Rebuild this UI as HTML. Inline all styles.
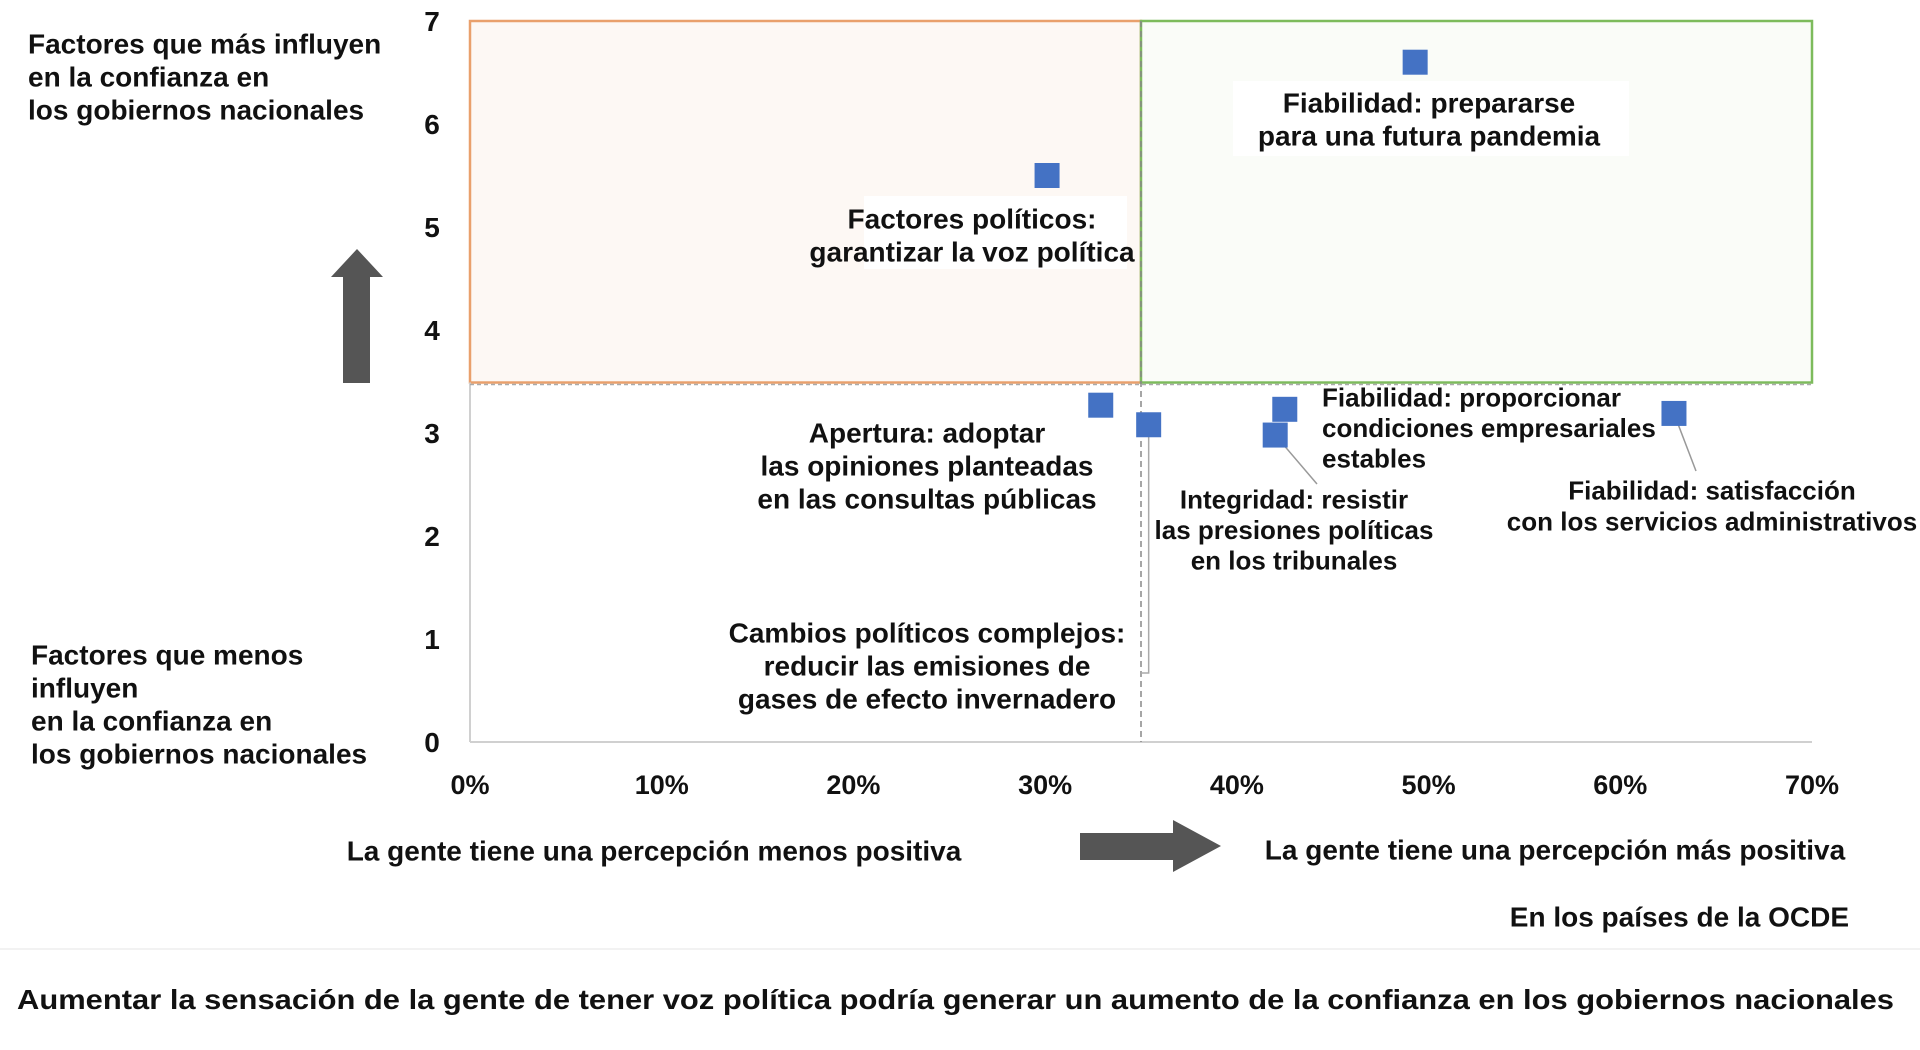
<!DOCTYPE html>
<html><head><meta charset="utf-8"><style>
body{margin:0;background:#fff;width:1920px;height:1050px;overflow:hidden}
svg{display:block}
text{font-family:"Liberation Sans",sans-serif;font-weight:bold;fill:#111}
</style></head><body>
<svg id="chart" width="1920" height="1050" viewBox="0 0 1920 1050">
<g id="bg"></g>
<g id="marks"></g>
</svg>
<script>
const xTicks=[0,10,20,30,40,50,60,70];
const yTicks=[0,1,2,3,4,5,6,7];
const names=["voz-politica","pandemia","consultas-publicas","emisiones","empresariales","tribunales","servicios-administrativos"];
const xVals=[30.1,49.3,32.9,35.4,42.5,42.0,62.8];
const yVals=[5.5,6.6,3.27,3.08,3.23,2.98,3.19];
const xSplit=35, ySplit=3.49;
const X=v=>470+v*(1812-470)/70;
const Y=v=>742-v*(742-21)/7;
const NS="http://www.w3.org/2000/svg";
const bg=document.getElementById('bg'), mk=document.getElementById('marks');
function el(p,t,a,txt){const e=document.createElementNS(NS,t);for(const k in a)e.setAttribute(k,a[k]);if(txt!==undefined)e.textContent=txt;p.appendChild(e);return e;}
let q1=el(bg,'rect',{x:X(0),y:Y(7),width:X(xSplit)-X(0),height:Y(ySplit)-Y(7),fill:'#fdf8f4',stroke:'#e9a06c','stroke-width':2.5});

let q2=el(bg,'rect',{x:X(xSplit),y:Y(7),width:X(70)-X(xSplit),height:Y(ySplit)-Y(7),fill:'#fafcf8',stroke:'#7dbb5c','stroke-width':2.5});

let ax=el(bg,'line',{x1:X(0),y1:Y(0),x2:X(70),y2:Y(0),stroke:'#d0d0d0','stroke-width':2});

let ay=el(bg,'line',{x1:X(0),y1:Y(0),x2:X(0),y2:Y(ySplit),stroke:'#d0d0d0','stroke-width':2});

let dv=el(bg,'line',{x1:X(xSplit),y1:Y(7),x2:X(xSplit),y2:Y(0),stroke:'#888','stroke-width':1.5,'stroke-dasharray':'6,4'});

let dh=el(bg,'line',{x1:X(0),y1:Y(ySplit)+2,x2:X(70),y2:Y(ySplit)+2,stroke:'#aaa','stroke-width':1.5,'stroke-dasharray':'4,3'});

xTicks.forEach(t=>{const e=el(bg,'text',{x:X(t),y:794,'text-anchor':'middle','font-size':27,fill:'#555'},t+'%');
});
yTicks.forEach(t=>{const e=el(bg,'text',{x:432,y:Y(t)+10,'text-anchor':'middle','font-size':28,fill:'#555'},t);
});
let b1=el(bg,'rect',{x:864,y:196,width:263,height:73,fill:'#fff'});
let b2=el(bg,'rect',{x:1233,y:81,width:396,height:75,fill:'#fff'});
let l1=el(mk,'line',{x1:X(42.0),y1:Y(2.98),x2:1317,y2:484,stroke:'#999','stroke-width':1.5});
let l2=el(mk,'line',{x1:X(62.8),y1:Y(3.19),x2:1696,y2:471,stroke:'#999','stroke-width':1.5});
let l3=el(mk,'polyline',{points:`${X(35.4)},${Y(3.08)} ${X(35.4)},673 ${X(35)},673`,fill:'none',stroke:'#aaa','stroke-width':1.5});
xVals.forEach((v,i)=>{const r=el(mk,'rect',{x:X(v)-12.5,y:Y(yVals[i])-12.5,width:25,height:25,fill:'#4472c4'});

});
function lab(lines,x,y0,dy,anchor,name,fs){fs=fs||28;lines.forEach((s,i)=>{const e=el(mk,'text',{x:x,y:y0+i*dy+fs/3,'text-anchor':anchor,'font-size':fs},s);

});}
lab(["Factores políticos:","garantizar la voz política"],972,219,33,'middle','label-voz-politica');
lab(["Fiabilidad: prepararse","para una futura pandemia"],1429,103,33,'middle','label-pandemia');
lab(["Apertura: adoptar","las opiniones planteadas","en las consultas públicas"],927,433,33,'middle','label-consultas');
lab(["Fiabilidad: proporcionar","condiciones empresariales","estables"],1322,398,30.5,'start','label-empresariales',26);
lab(["Integridad: resistir","las presiones políticas","en los tribunales"],1294,500,30.5,'middle','label-tribunales',26);
lab(["Fiabilidad: satisfacción","con los servicios administrativos"],1712,491,31,'middle','label-servicios',26);
lab(["Cambios políticos complejos:","reducir las emisiones de","gases de efecto invernadero"],927,633,33,'middle','label-emisiones');
lab(["Factores que más influyen","en la confianza en","los gobiernos nacionales"],28,44,33,'start','y-axis-title-top');
lab(["Factores que menos","influyen","en la confianza en","los gobiernos nacionales"],31,655,33,'start','y-axis-title-bottom');
lab(["La gente tiene una percepción menos positiva"],654,851,0,'middle','x-axis-title-left');
lab(["La gente tiene una percepción más positiva"],1555,850,0,'middle','x-axis-title-right');
lab(["En los países de la OCDE"],1849,917,0,'end','region-note');
let ua=el(bg,'polygon',{points:'343,383 370,383 370,277 383,277 357,249 331,277 343,277',fill:'#555'});

let ra=el(bg,'polygon',{points:'1080,833 1173,833 1173,820 1221,846 1173,872 1173,860 1080,860',fill:'#555'});

let sep=el(bg,'line',{x1:0,y1:949,x2:1920,y2:949,stroke:'#eee','stroke-width':1.5});

const t=el(mk,'text',{x:17,y:1009,'font-size':28,textLength:1877,lengthAdjust:'spacingAndGlyphs'},'Aumentar la sensación de la gente de tener voz política podría generar un aumento de la confianza en los gobiernos nacionales');


</script>
</body></html>
